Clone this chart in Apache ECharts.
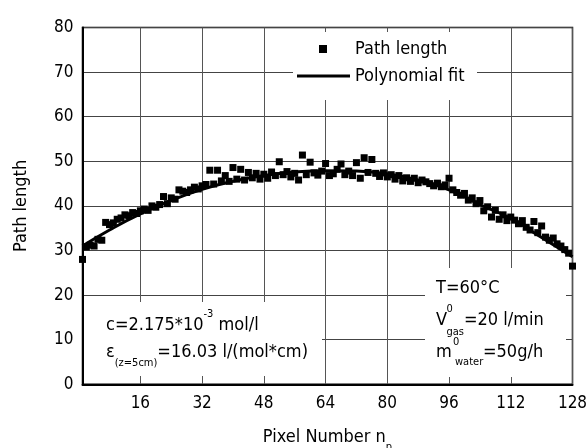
<!DOCTYPE html>
<html><head><meta charset="utf-8">
<script src="https://cdn.jsdelivr.net/npm/echarts@6/dist/echarts.min.js"></script>
<style>html,body{margin:0;padding:0;background:#fff}#c{width:587px;height:448px}</style>
</head><body><div id="c"></div>
<script>
// Measured path length per pixel (pixel numbers 1..128)
const pathLength = [
  28.0, 30.8, 31.2, 31.0, 32.5, 32.3, 36.3, 35.8, 36.2, 37.0,
  37.3, 38.0, 37.8, 38.5, 38.3, 38.9, 39.3, 39.0, 40.0, 39.7,
  40.3, 42.1, 40.5, 41.8, 41.5, 43.6, 43.3, 43.0, 43.6, 44.2,
  43.8, 44.5, 44.8, 48.0, 44.9, 48.0, 45.6, 46.8, 45.5, 48.6,
  46.0, 48.2, 45.8, 47.5, 46.3, 47.3, 46.0, 47.1, 46.2, 47.6,
  46.8, 49.9, 47.0, 47.7, 46.5, 47.3, 45.8, 51.4, 47.0, 49.8,
  47.4, 46.9, 47.8, 49.5, 46.8, 47.2, 48.2, 49.4, 47.0, 47.8,
  46.8, 49.7, 46.2, 50.8, 47.5, 50.4, 47.3, 46.6, 47.4, 46.5,
  47.0, 46.0, 46.8, 45.6, 46.3, 45.5, 46.2, 45.2, 45.8, 45.4,
  45.0, 44.5, 45.1, 44.3, 44.7, 46.2, 43.6, 43.0, 42.4, 42.8,
  41.3, 41.8, 40.5, 41.2, 38.9, 39.8, 37.5, 39.0, 37.0, 38.0,
  36.7, 37.5, 36.8, 36.0, 36.7, 35.2, 34.6, 36.5, 34.0, 35.5,
  33.0, 32.3, 32.8, 31.5, 31.0, 30.2, 29.4, 26.5
];
// Polynomial fit curve read at selected pixels
const fitPixels = [1, 8, 16, 24, 32, 40, 48, 56, 64, 72, 80, 88, 96, 104, 112, 120, 128];
const fitValues = [31.0, 34.6, 38.2, 41.2, 43.7, 45.5, 46.8, 47.6, 47.9, 47.8, 47.2, 45.8, 43.6, 40.3, 37.2, 32.9, 28.6];
const xTickValues = [16, 32, 48, 64, 80, 96, 112, 128];
const xMin = 1, xMax = 128;
const yMin = 0, yMax = 80, yStep = 10;

const FONT = '"DejaVu Sans Condensed","DejaVu Sans",sans-serif';
const scatterData = pathLength.map((v, i) => [i + 1, v]);
const fitData = fitPixels.map((p, i) => [p, fitValues[i]]);

const chart = echarts.init(document.getElementById('c'), null, {renderer: 'canvas'});

function txt(x, y, text, size, extra) {
  return {
    type: 'text', x: x, y: y, z: 10,
    style: Object.assign({text: text, fill: '#000', font: size + 'px ' + FONT, verticalAlign: 'middle', align: 'left'}, extra || {})
  };
}

chart.setOption({
  animation: false,
  backgroundColor: '#fff',
  textStyle: {fontFamily: FONT},
  grid: {left: 82.5, right: 14.5, top: 27.5, bottom: 63.7, outerBoundsMode: 'none', containLabel: false,
         show: true, borderColor: '#000', borderWidth: 1.5, backgroundColor: 'transparent'},
  xAxis: {
    type: 'value', min: xMin, max: xMax,
    name: 'Pixel Number n{sub|p}', nameLocation: 'middle', nameGap: 38,
    nameTextStyle: {fontSize: 18, color: '#000', fontFamily: FONT,
      rich: {sub: {fontSize: 11, verticalAlign: 'bottom', lineHeight: 30, padding: [12, 0, 0, 0], fontFamily: FONT}}},
    axisLine: {show: true, onZero: false, lineStyle: {color: '#000', width: 2}},
    axisTick: {show: false, customValues: xTickValues},
    axisLabel: {customValues: xTickValues, fontSize: 17, color: '#000', margin: 11, fontFamily: FONT},
    splitLine: {show: true, lineStyle: {color: '#555', width: 1}}
  },
  yAxis: {
    type: 'value', min: yMin, max: yMax, interval: yStep,
    name: 'Path length', nameLocation: 'middle', nameGap: 52, nameRotate: 90,
    nameTextStyle: {fontSize: 18, color: '#000', fontFamily: FONT},
    axisLine: {show: true, onZero: false, lineStyle: {color: '#000', width: 2}},
    axisTick: {show: false},
    axisLabel: {fontSize: 17, color: '#000', margin: 9, fontFamily: FONT},
    splitLine: {show: true, lineStyle: {color: '#444', width: 1}}
  },
  legend: [
    {data: ['Path length'], left: 319, top: 40, padding: 0, itemWidth: 8, itemHeight: 8, icon: 'rect',
     textStyle: {fontSize: 18, color: '#000', fontFamily: FONT, padding: [0, 0, 0, 23]}},
    {data: ['Polynomial fit'], left: 297, top: 67, padding: 0, itemWidth: 53, itemHeight: 3, icon: 'rect',
     textStyle: {fontSize: 18, color: '#000', fontFamily: FONT}}
  ],
  series: [
    {name: 'Path length', type: 'scatter', data: scatterData, symbol: 'rect', symbolSize: 7,
     itemStyle: {color: '#000', opacity: 1}, z: 3},
    {name: 'Polynomial fit', type: 'line', data: fitData, smooth: true, showSymbol: false, symbol: 'none',
     lineStyle: {color: '#000', width: 3}, itemStyle: {color: '#000'}, z: 4}
  ],
  graphic: [
    {type: 'rect', z: 1, shape: {x: 293, y: 32, width: 184, height: 68}, style: {fill: '#fff'}},
    {type: 'rect', z: 1, shape: {x: 84, y: 302, width: 238, height: 74}, style: {fill: '#fff'}},
    {type: 'rect', z: 1, shape: {x: 425, y: 268, width: 141, height: 109}, style: {fill: '#fff'}},
    txt(106, 325, 'c=2.175*10{sup|-3} mol/l', 18, {lineHeight: 33, rich: {sup: {fontSize: 11, verticalAlign: 'top', lineHeight: 33, fontFamily: FONT}}}),
    txt(106, 352, 'ε{sub|(z=5cm)}=16.03 l/(mol*cm)', 18, {lineHeight: 33, rich: {sub: {fontSize: 11, verticalAlign: 'bottom', lineHeight: 33, fontFamily: FONT}}}),
    txt(436, 288, 'T=60°C', 18),
    txt(436, 320, 'V', 18),
    txt(446.5, 309, '0', 11),
    txt(446.5, 332, 'gas', 11),
    txt(464, 320, '=20 l/min', 18),
    txt(436, 352, 'm', 18),
    txt(453, 342, '0', 11),
    txt(455, 362, 'water', 11),
    txt(483, 352, '=50g/h', 18)
  ]
});
</script>
</body></html>
